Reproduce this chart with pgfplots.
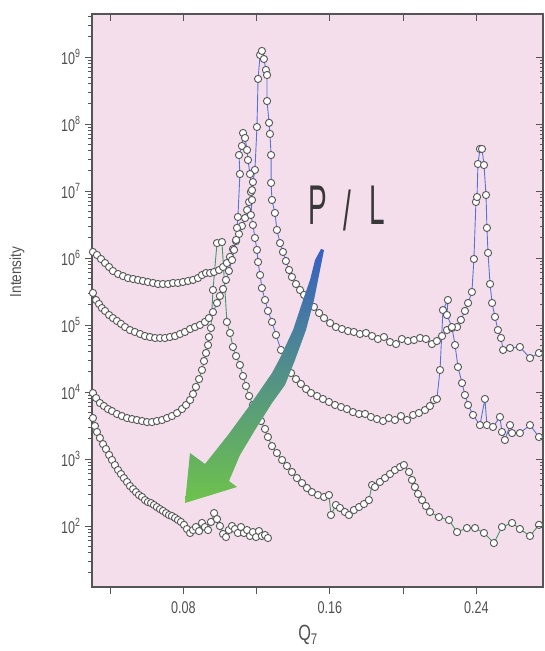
\documentclass[border=0pt]{standalone}
\usepackage{fontspec}
\setmainfont{Liberation Sans}
\newfontfamily\condfont[FakeStretch=0.74]{Liberation Sans}
\newfontfamily\labfont[FakeStretch=0.85]{Liberation Sans}
\newfontfamily\narrowfont[FakeStretch=0.5]{Liberation Sans}
\usepackage{pgfplots}
\usepackage{pgfplotstable}
\pgfplotsset{compat=1.18}
\definecolor{pinkbg}{RGB}{245,222,236}
\definecolor{axisgray}{RGB}{85,85,85}
\definecolor{labgray}{RGB}{80,80,80}
\definecolor{serblue}{RGB}{85,115,220}
\definecolor{sergreen}{RGB}{60,155,105}
\definecolor{mkgray}{RGB}{90,90,90}
\definecolor{arrblue}{RGB}{55,95,195}
\definecolor{arrmid}{RGB}{70,125,150}
\definecolor{arrgreen}{RGB}{110,195,75}

\pgfplotstableread{
x y
0.0307 1.23e6
0.0329 1.11e6
0.0351 9.66e5
0.0373 8.41e5
0.0395 7.34e5
0.0416 6.40e5
0.0444 5.77e5
0.0471 5.38e5
0.0498 5.02e5
0.0526 4.86e5
0.0553 4.70e5
0.0580 4.54e5
0.0607 4.38e5
0.0635 4.24e5
0.0662 4.09e5
0.0689 4.09e5
0.0717 4.09e5
0.0744 4.24e5
0.0771 4.24e5
0.0798 4.38e5
0.0826 4.54e5
0.0853 4.70e5
0.0880 5.02e5
0.0902 5.57e5
0.0924 5.97e5
0.0946 5.97e5
0.0968 6.18e5
0.0995 6.62e5
0.1017 7.34e5
0.1038 8.41e5
0.1055 1.04e6
0.1071 1.36e6
0.1088 1.79e6
0.1104 2.28e6
0.1120 3.01e6
0.1137 3.95e6
0.1148 5.20e6
0.1159 6.85e6
0.1169 9.66e6
0.1180 1.36e7
0.1191 2.06e7
0.1202 9.02e7
0.1208 4.70e8
0.1219 1.07e9
0.1229 1.23e9
0.1240 9.33e8
0.1251 6.40e8
0.1257 5.38e8
0.1257 2.20e8
0.1268 1.04e8
0.1273 7.10e7
0.1279 3.44e7
0.1279 1.32e7
0.1284 7.34e6
0.1300 4.70e6
0.1311 2.62e6
0.1328 1.67e6
0.1344 1.23e6
0.1360 9.02e5
0.1377 6.62e5
0.1393 5.20e5
0.1415 4.09e5
0.1437 3.33e5
0.1459 2.81e5
0.1486 2.28e5
0.1513 1.86e5
0.1541 1.51e5
0.1568 1.27e5
0.1601 1.07e5
0.1633 9.33e4
0.1666 8.71e4
0.1699 8.13e4
0.1731 7.87e4
0.1764 7.34e4
0.1797 7.60e4
0.1830 6.85e4
0.1862 6.18e4
0.1895 6.62e4
0.1928 5.57e4
0.1961 5.20e4
0.1993 6.18e4
0.2026 5.77e4
0.2059 5.97e4
0.2092 6.40e4
0.2124 6.18e4
0.2157 5.20e4
0.2184 5.77e4
0.2212 6.85e4
0.2239 8.41e4
0.2266 9.02e4
0.2294 9.33e4
0.2315 1.19e5
0.2337 1.62e5
0.2354 2.13e5
0.2375 3.11e5
0.2386 9.66e5
0.2397 6.85e6
0.2403 8.13e6
0.2408 2.53e7
0.2419 4.24e7
0.2430 4.24e7
0.2441 2.44e7
0.2452 8.71e6
0.2457 2.81e6
0.2463 1.19e6
0.2474 4.09e5
0.2485 2.13e5
0.2501 1.32e5
0.2517 8.41e4
0.2534 6.40e4
0.2545 4.24e4
0.2583 4.54e4
0.2637 4.70e4
0.2692 3.21e4
0.2741 3.82e4
}\curveA

\pgfplotstableread{
x y
0.0307 3.01e5
0.0324 2.36e5
0.0340 2.06e5
0.0356 1.79e5
0.0373 1.62e5
0.0395 1.41e5
0.0416 1.27e5
0.0438 1.15e5
0.0460 1.04e5
0.0482 9.33e4
0.0509 8.41e4
0.0536 7.87e4
0.0564 7.34e4
0.0591 6.85e4
0.0618 6.62e4
0.0646 6.40e4
0.0673 6.40e4
0.0700 6.40e4
0.0727 6.62e4
0.0755 6.85e4
0.0782 7.34e4
0.0809 7.87e4
0.0837 8.71e4
0.0864 9.33e4
0.0891 1.00e5
0.0918 1.11e5
0.0940 1.27e5
0.0962 1.56e5
0.0984 2.13e5
0.1000 2.71e5
0.1017 3.44e5
0.1033 4.70e5
0.1049 6.40e5
0.1066 9.33e5
0.1077 1.32e6
0.1088 1.86e6
0.1093 2.81e6
0.1098 4.09e6
0.1109 1.79e7
0.1104 3.44e7
0.1120 4.70e7
0.1126 7.34e7
0.1137 6.18e7
0.1148 4.09e7
0.1153 2.90e7
0.1164 1.79e7
0.1175 1.03e7
0.1175 7.34e6
0.1169 4.38e6
0.1180 3.11e6
0.1191 1.99e6
0.1202 1.32e6
0.1208 8.71e5
0.1219 5.57e5
0.1229 3.56e5
0.1246 2.36e5
0.1262 1.62e5
0.1284 1.11e5
0.1306 7.10e4
0.1333 4.24e4
0.1360 2.81e4
0.1388 1.92e4
0.1415 1.56e4
0.1442 1.32e4
0.1470 1.11e4
0.1497 9.66e3
0.1530 8.71e3
0.1562 7.87e3
0.1595 7.10e3
0.1628 6.40e3
0.1661 5.97e3
0.1693 5.57e3
0.1726 5.02e3
0.1759 4.70e3
0.1792 4.70e3
0.1824 4.24e3
0.1857 3.95e3
0.1890 3.69e3
0.1922 4.09e3
0.1955 3.82e3
0.1988 4.38e3
0.2021 3.82e3
0.2054 4.54e3
0.2086 4.86e3
0.2119 5.38e3
0.2146 6.18e3
0.2168 7.60e3
0.2184 7.87e3
0.2201 2.13e4
0.2217 1.67e5
0.2244 2.36e5
0.2239 1.41e5
0.2266 9.33e4
0.2283 5.02e4
0.2299 2.36e4
0.2321 1.36e4
0.2337 9.02e3
0.2354 6.40e3
0.2381 4.54e3
0.2419 3.21e3
0.2446 7.87e3
0.2457 3.21e3
0.2490 3.01e3
0.2528 4.24e3
0.2539 2.53e3
0.2555 1.92e3
0.2583 3.21e3
0.2594 2.44e3
0.2637 2.44e3
0.2692 3.21e3
0.2741 2.13e3
}\curveB

\pgfplotstableread{
x y
0.0307 9.66e3
0.0324 8.13e3
0.0345 6.85e3
0.0367 6.18e3
0.0389 5.57e3
0.0411 5.20e3
0.0438 4.70e3
0.0465 4.38e3
0.0493 4.09e3
0.0520 3.95e3
0.0547 3.82e3
0.0575 3.69e3
0.0602 3.56e3
0.0629 3.56e3
0.0656 3.69e3
0.0684 3.82e3
0.0711 4.09e3
0.0738 4.38e3
0.0766 4.86e3
0.0793 5.57e3
0.0815 6.40e3
0.0837 7.60e3
0.0853 9.33e3
0.0869 1.19e4
0.0886 1.56e4
0.0902 2.13e4
0.0913 2.90e4
0.0924 3.82e4
0.0935 5.02e4
0.0940 6.62e4
0.0951 9.02e4
0.0962 3.33e5
0.0984 1.67e6
0.1011 1.73e6
0.1038 1.11e5
0.1055 7.60e4
0.1071 4.70e4
0.1088 3.44e4
0.1109 2.53e4
0.1126 1.73e4
0.1142 1.23e4
0.1159 8.71e3
0.1180 6.40e3
0.1202 4.86e3
0.1224 3.69e3
0.1246 2.81e3
0.1262 2.13e3
0.1284 1.56e3
0.1311 1.23e3
0.1339 967
0.1366 787
0.1393 640
0.1420 520
0.1448 438
0.1475 369
0.1502 321
0.1535 290
0.1568 271
0.1595 290
0.1606 146
0.1633 206
0.1655 186
0.1682 162
0.1704 146
0.1731 173
0.1759 192
0.1786 213
0.1813 244
0.1830 409
0.1846 382
0.1873 454
0.1901 520
0.1928 597
0.1955 685
0.1983 760
0.2004 813
0.2032 640
0.2048 486
0.2064 382
0.2081 301
0.2103 244
0.2124 199
0.2146 162
0.2195 136
0.2250 123
0.2294 81.3
0.2348 93.3
0.2392 93.3
0.2441 78.7
0.2495 55.7
0.2539 96.6
0.2594 111
0.2637 90.2
0.2692 71.0
0.2741 104
}\curveC

\pgfplotstableread{
x y
0.0307 4.09e3
0.0318 3.11e3
0.0329 2.53e3
0.0345 2.06e3
0.0362 1.67e3
0.0378 1.41e3
0.0395 1.15e3
0.0411 967
0.0427 813
0.0444 685
0.0460 597
0.0476 520
0.0493 454
0.0509 395
0.0526 356
0.0542 321
0.0558 290
0.0575 271
0.0591 244
0.0607 228
0.0624 220
0.0640 206
0.0656 192
0.0673 179
0.0689 168
0.0706 156
0.0722 146
0.0738 141
0.0755 132
0.0771 123
0.0787 115
0.0804 104
0.0820 90.2
0.0837 78.7
0.0853 87.1
0.0869 96.6
0.0886 84.1
0.0902 111
0.0918 96.6
0.0935 87.1
0.0951 115
0.0968 156
0.0984 127
0.1000 100
0.1017 76.0
0.1033 68.5
0.1049 87.1
0.1066 100
0.1082 90.2
0.1098 78.7
0.1115 96.6
0.1131 78.7
0.1148 87.1
0.1164 71.0
0.1180 81.3
0.1197 68.5
0.1213 84.1
0.1229 71.0
0.1246 73.4
0.1262 66.2
}\curveD

\begin{document}
\begin{tikzpicture}[x=1pt,y=1pt]
\fill[white] (0,0) rectangle (544,651);
\useasboundingbox (0,0) rectangle (544,651);
\begin{axis}[
  at={(92pt,64pt)}, anchor=south west,
  width=451pt, height=573pt, scale only axis,
  xmin=0.03018, xmax=0.2763,
  ymode=log, ymin=12.3, ymax=4.38e9,
  axis background/.style={fill=pinkbg},
  axis line style={draw=axisgray, line width=1.1pt},
  every tick/.style={draw=axisgray, line width=0.9pt},
  tick align=outside,
  xtick pos=left, ytick pos=left,
  major tick length=7pt, minor tick length=4pt,
  xtick={0.04,0.08,0.12,0.16,0.20,0.24},
  xticklabels={,0.08,,0.16,,0.24},
  ytick={1e2,1e3,1e4,1e5,1e6,1e7,1e8,1e9},
  yticklabels={10\textsuperscript{2},10\textsuperscript{3},10\textsuperscript{4},10\textsuperscript{5},10\textsuperscript{6},10\textsuperscript{7},10\textsuperscript{8},10\textsuperscript{9}},
  minor ytick={20,30,40,50,60,70,80,90,200,300,400,500,600,700,800,900,2e3,3e3,4e3,5e3,6e3,7e3,8e3,9e3,2e4,3e4,4e4,5e4,6e4,7e4,8e4,9e4,2e5,3e5,4e5,5e5,6e5,7e5,8e5,9e5,2e6,3e6,4e6,5e6,6e6,7e6,8e6,9e6,2e7,3e7,4e7,5e7,6e7,7e7,8e7,9e7,2e8,3e8,4e8,5e8,6e8,7e8,8e8,9e8,2e9,3e9,4e9},
  tick label style={font=\condfont\fontsize{17}{17}\selectfont, text=labgray},
  yticklabel style={xshift=-1pt},
  xticklabel style={yshift=-4pt},
  clip=true,
  every axis plot/.append style={line width=0.9pt, mark=*, mark size=3.6pt,
    mark options={draw=mkgray, fill=white, line width=0.95pt, solid}},
]
\addplot[serblue] table[x=x,y=y] {\curveA};
\addplot[serblue] table[x=x,y=y] {\curveB};
\addplot[sergreen] table[x=x,y=y] {\curveC};
\addplot[sergreen] table[x=x,y=y] {\curveD};
\end{axis}
\begin{axis}[
  at={(92pt,64pt)}, anchor=south west,
  width=451pt, height=573pt, scale only axis,
  xmin=0.03018, xmax=0.2763,
  ymode=log, ymin=12.3, ymax=4.38e9,
  axis line style={draw=none},
  every tick/.style={draw=axisgray, line width=0.9pt},
  tick align=inside,
  xtick pos=right, ytick pos=right,
  major tick length=7pt,
  xtick={0.04,0.08,0.12,0.16,0.20,0.24},
  ytick={1e2,1e3,1e4,1e5,1e6,1e7,1e8,1e9},
  minor ytick={},
  xticklabels={}, yticklabels={},
]
\end{axis}
% arrow annotation
\shade[top color=arrblue, middle color=arrmid, bottom color=arrgreen]
  (321,402) -- (315,391) -- (310,371) -- (303,351) -- (293,321) -- (280,293) -- (272,278)
  -- (250,246) -- (228,216) -- (205,187) -- (190,198) -- (185,148) -- (237,164) -- (229,170)
  -- (240,196) -- (255,221) -- (272,248) -- (285,266) -- (295,291) -- (306,321) -- (314,351)
  -- (320,381) -- (324,401) -- cycle;
% P / L text
\node[text=black!78, font=\narrowfont\fontsize{56}{56}\selectfont, anchor=base] at (318,426) {P};
\node[text=black!78, font=\narrowfont\fontsize{56}{56}\selectfont, anchor=base] at (347,420) {/};
\node[text=black!78, font=\narrowfont\fontsize{56}{56}\selectfont, anchor=base] at (377,426) {L};
% axis labels
\node[rotate=90, text=labgray, font=\labfont\fontsize{16}{16}\selectfont] at (17,379) {Intensity};
\node[text=labgray, font=\condfont\fontsize{22}{22}\selectfont] at (308,16) {Q\textsubscript{7}};
\end{tikzpicture}
\end{document}
